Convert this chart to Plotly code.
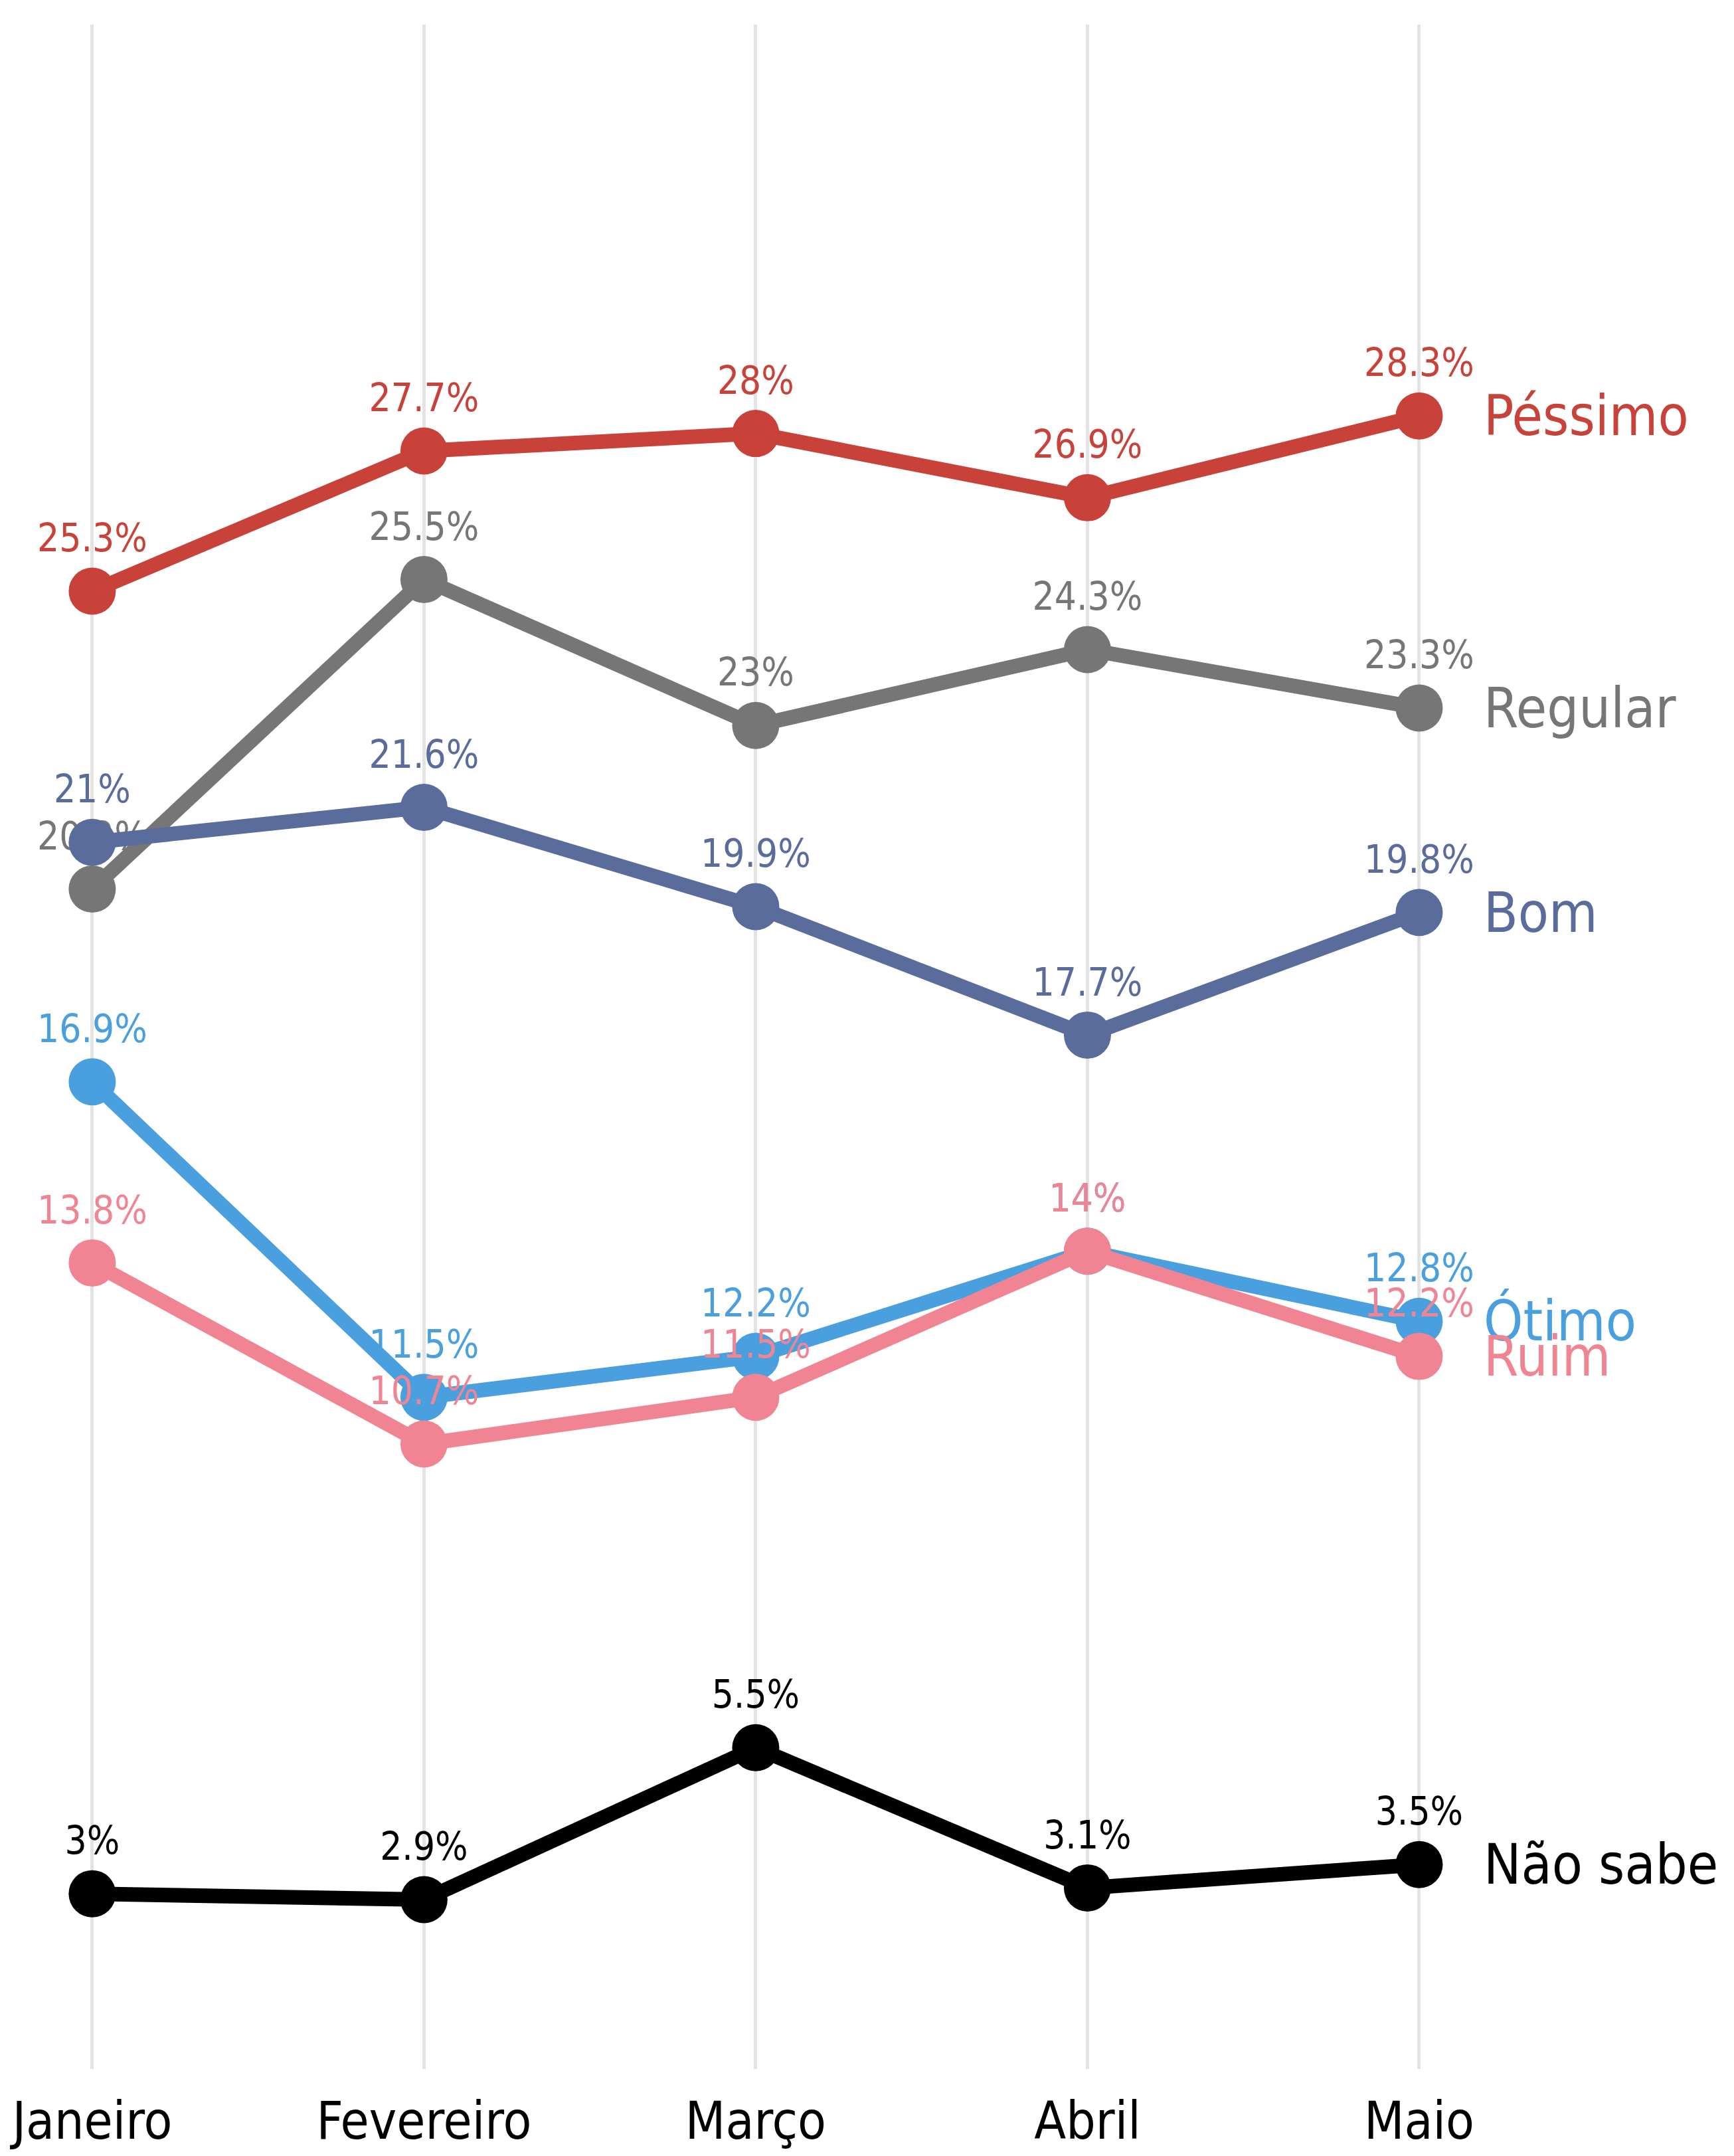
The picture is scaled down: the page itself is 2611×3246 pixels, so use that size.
import plotly.graph_objects as go

meses = ["Janeiro", "Fevereiro", "Março", "Abril", "Maio"]

pessimo = [25.3, 27.7, 28.0, 26.9, 28.3]
regular = [20.2, 25.5, 23.0, 24.3, 23.3]
bom = [21.0, 21.6, 19.9, 17.7, 19.8]
otimo = [16.9, 11.5, 12.2, 14.0, 12.8]
ruim = [13.8, 10.7, 11.5, 14.0, 12.2]
nao_sabe = [3.0, 2.9, 5.5, 3.1, 3.5]

FONT = "DejaVu Sans Condensed, Liberation Sans Narrow, Arial Narrow, sans-serif"

# drawing order matters: later traces sit on top
series = [
    ("Regular", regular, "#767676"),
    ("Bom", bom, "#596c9b"),
    ("Péssimo", pessimo, "#c9423a"),
    ("Ótimo", otimo, "#4a9fdf"),
    ("Ruim", ruim, "#f08493"),
    ("Não sabe", nao_sabe, "#000000"),
]


def fmt(v):
    s = f"{v:.1f}"
    if s.endswith(".0"):
        s = s[:-2]
    return s + "%"


fig = go.Figure()
for name, vals, color in series:
    fig.add_trace(go.Scatter(
        x=meses, y=vals, name=name,
        mode="lines+markers+text",
        line=dict(color=color, width=22),
        marker=dict(color=color, size=71),
        text=[fmt(v) for v in vals],
        textposition="top center",
        textfont=dict(family=FONT, size=58, color=color),
        cliponaxis=False,
        showlegend=False,
        hoverinfo="skip",
    ))
    fig.add_annotation(
        x=meses[-1], y=vals[-1], text=name,
        xanchor="left", yanchor="middle", xshift=95,
        showarrow=False,
        font=dict(family=FONT, size=84, color=color),
    )

fig.update_layout(
    width=2611, height=3246,
    margin=dict(l=10, r=10, t=29, b=139),
    plot_bgcolor="white", paper_bgcolor="white",
    xaxis=dict(
        range=[-0.242, 4.945],
        automargin=False,
        showgrid=True, gridcolor="#e3e3e3", gridwidth=5,
        zeroline=False, showline=False,
        ticks="outside", ticklen=10, tickcolor="white",
        tickfont=dict(family=FONT, size=78, color="#000000"),
    ),
    yaxis=dict(
        range=[0, 35], visible=False, automargin=False,
    ),
)

fig.write_html("out.html")
